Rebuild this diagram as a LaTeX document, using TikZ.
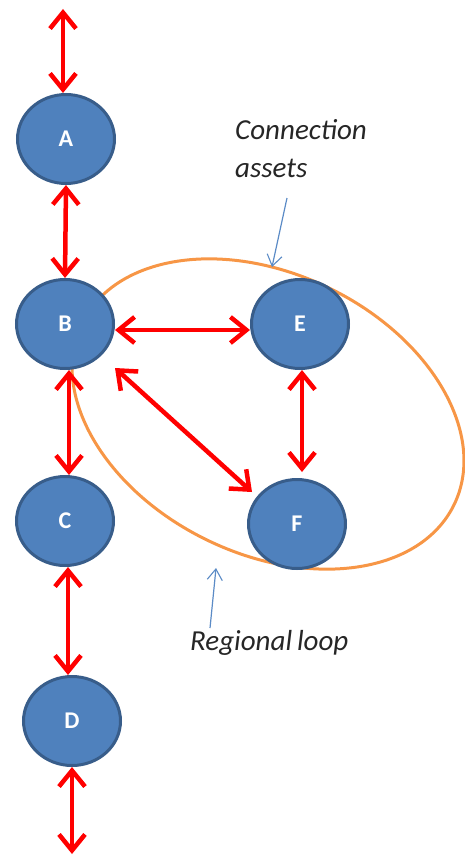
\documentclass[tikz,border=0pt]{standalone}
\usepackage{fontspec}
\setmainfont{Carlito}
\usetikzlibrary{arrows.meta,shapes.geometric,calc}
\definecolor{nodefill}{HTML}{4F81BD}
\definecolor{nodeline}{HTML}{385D8A}
\definecolor{loopline}{HTML}{F79646}
\definecolor{pointerline}{HTML}{5B8BC6}
\begin{document}
\begin{tikzpicture}[x=1pt,y=-1pt,
  asset/.style={ellipse, draw=nodeline, fill=nodefill, line width=3pt,
    minimum width=97pt, minimum height=89pt, inner sep=0pt,
    text=white, font=\bfseries\fontsize{24}{28}\selectfont},
  link/.style={draw=red, line width=4.5pt, line cap=round,
    {Straight Barb[length=16pt,width=26pt]}-{Straight Barb[length=16pt,width=26pt]}},
  pointer/.style={draw=pointerline, line width=1.2pt,
    -{Straight Barb[length=11pt,width=15pt,line width=1.1pt]}},
  label/.style={font=\itshape\fontsize{29}{38}\selectfont, text=black!85,
    inner sep=0pt, align=left}]
\useasboundingbox (0,0) rectangle (464,856);

% regional loop outline
\draw[loopline, line width=3pt, rotate around={-26:(268,414)}]
  (268,414) ellipse [x radius=207pt, y radius=140pt];

% assets
\node[asset] (A) at (66,139) {A};
\node[asset] (B) at (65,324) {B};
\node[asset] (E) at (300,324) {E};
\node[asset] (C) at (65,521) {C};
\node[asset] (F) at (297,524) {F};
\node[asset] (D) at (72,721) {D};

% free ends of the main line
\coordinate (topend) at (63,9);
\coordinate (botend) at (72,854);

% connections
\draw[link] (topend) -- (topend |- A.north);
\draw[link] (A.south) -- (B.north);
\draw[link] ([xshift=4pt]B.south) -- ([xshift=4pt]C.north);
\draw[link] ([xshift=3pt]C.south) -- ([xshift=-4pt]D.north);
\draw[link] (D.south) -- (botend);
\draw[link] ([yshift=-6pt]B.east) -- ([yshift=-6pt]E.west);
\draw[link, shorten >=6pt] ([xshift=2pt]E.south) -- ([xshift=5pt]F.north);
\draw[link] ($(B)+(50,44)$) -- ($(F)+(-45,-32)$);

% annotations
\node[label, anchor=north west] (conn) at (235,119) {Connection\\assets};
\node[label, anchor=north west] (regl) at (190,630) {Regional\,loop};
\coordinate (connfrom) at (287,198);
\coordinate (connto) at (272,267);
\coordinate (reglfrom) at (210,628);
\coordinate (reglto) at (216,568);
\draw[pointer] (connfrom) -- (connto);
\draw[pointer] (reglfrom) -- (reglto);
\end{tikzpicture}
\end{document}
